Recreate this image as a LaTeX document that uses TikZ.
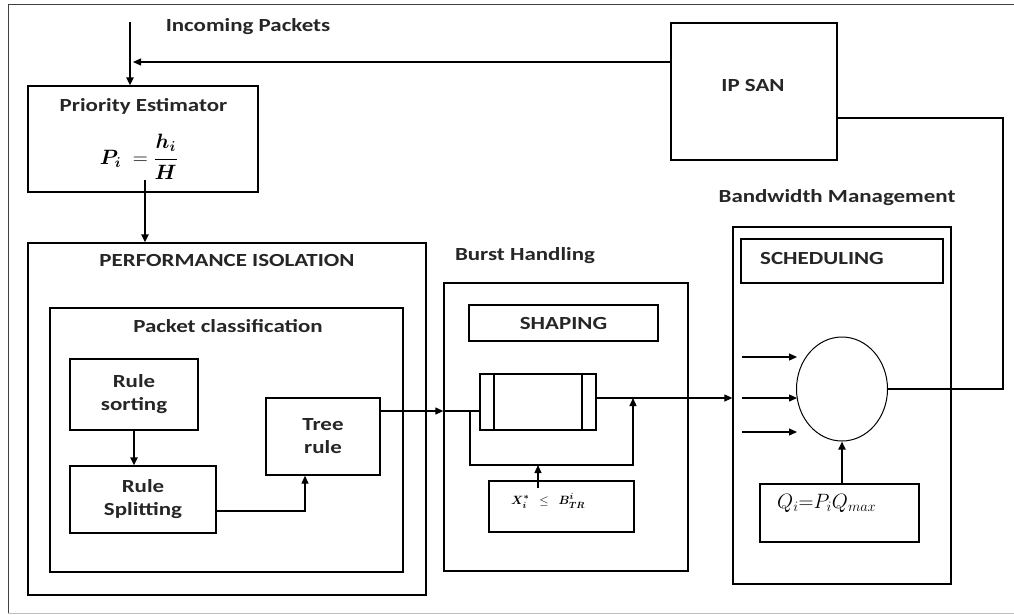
\documentclass[tikz,border=0pt]{standalone}
\usepackage{amsmath,amssymb}
\usepackage{fontspec}
\setmainfont[FakeStretch=1.24]{Carlito}
\usetikzlibrary{arrows.meta,shapes.geometric}

\begin{document}
\begin{tikzpicture}[x=1pt,y=-1pt,>={Triangle[length=8pt,width=7pt]},
  box/.style={draw,line width=1.3pt,inner sep=0pt},
  sz/.style 2 args={minimum width=#1pt,minimum height=#2pt},
  txt/.style={font=\fontsize{18.5}{23}\selectfont\bfseries,align=center,inner sep=0pt,text=black!85},
  fml/.style={font=\fontsize{#1}{#1}\selectfont,inner sep=0pt},
  con/.style={line width=1.2pt},
  thk/.style={line width=2.2pt}]
\useasboundingbox (0,0) rectangle (1014,614);
\draw[line width=1pt,black!75] (8,613)--(8,4)--(1014,4);
\draw[line width=1pt,black!25] (8,613)--(1014,613);
% left column
\node[txt] (inc) at (248,27) {Incoming Packets};
\node[box,sz={230}{106}] (prio) at (143,139) {};
\node[txt] (priot) at (143.5,106) {Priority Estimator};
\node[fml=21] (prif) at (139,157) {$\boldsymbol{P_i}\;=\displaystyle\boldsymbol{\frac{h_i}{H}}$};
\node[box,sz={398}{352}] (perf) at (227,419) {};
\node[txt] (perft) at (227,260) {PERFORMANCE ISOLATION};
\node[box,sz={353}{264}] (pcls) at (226.5,440) {};
\node[txt] (pclst) at (228,326) {Packet classification};
\node[box,sz={128}{71},txt] (rsort) at (134,394.5) {Rule\\sorting};
\node[box,sz={146}{67},txt] (rsplit) at (143,499.5) {Rule\\Splitting};
\node[box,sz={114}{77},txt] (tree) at (323,436.5) {Tree\\rule};
% burst handling
\node[txt] (bht) at (525,256) {Burst Handling};
\node[box,sz={244}{288}] (burst) at (566,427) {};
\node[box,sz={189}{36},txt] (shp) at (563.5,323) {SHAPING};
\node[box,sz={116}{56}] (queue) at (538,402) {};
\draw[line width=2pt] ([xshift=15pt]queue.north west)--([xshift=15pt]queue.south west)
  ([xshift=-15pt]queue.north east)--([xshift=-15pt]queue.south east);
\node[box,sz={145}{51}] (cons) at (561.5,506.5) {};
\node[fml=13,anchor=west] (const) at (511,501) {$\boldsymbol{X^{*}_{i}}\;\;\le\;\;\boldsymbol{B^{i}_{TR}}$};
% bandwidth management
\node[txt] (bwt) at (837,198) {Bandwidth Management};
\node[box,sz={218}{357}] (bw) at (842,405.5) {};
\node[box,sz={202}{44}] (sched) at (842,261) {};
\node[txt,anchor=west] (schedt) at (760,258) {SCHEDULING};
\node[draw,ellipse,line width=1pt,sz={91}{104},inner sep=0pt] (sch) at (842,389) {};
\node[box,sz={159}{58}] (qbox) at (839.5,513) {};
\node[fml=20,anchor=west] (qf) at (777,503) {$Q_i{=}P_iQ_{max}$};
\node[box,sz={166}{137}] (ipsan) at (754,91.5) {};
\node[txt] (ipsant) at (753,85) {IP SAN};
% connectors
\coordinate (inc0) at (130,22);
\draw[thk,->] (inc0) -- (inc0 |- prio.north);
\coordinate (fb) at (133,62);
\draw[con,->] (ipsan.west |- fb) -- (fb);
\coordinate (pe) at (145,180);
\draw[thk,->] (pe) -- (pe |- perf.north);
\draw[thk,->] (rsort.south) -- (rsort.south |- rsplit.north);
\draw[con,->] ([yshift=-11.5pt]rsplit.east) -| ([xshift=-18pt]tree.south);
\coordinate (tq) at ([yshift=25.5pt]tree.east);
\draw[con,->] (tq) -- (tq -| burst.west);
\draw[con] (tq -| burst.west) -- (tq -| queue.west);
\coordinate (byp) at (470,411);
\coordinate (bypd) at (633,465);
\coordinate (join) at (633,398);
\draw[con,->] (byp) |- (bypd) -- (join);
\draw[con,->] (queue.east |- join) -- (join -| bw.west);
\coordinate (ct) at (538,488);
\draw[con,->] (ct) -- (ct |- bypd);
\foreach \yy [count=\k] in {357,398,432}{
  \coordinate (s\k) at (742,\yy);
  \draw[con,->] (s\k) -- ++(55,0);
}
\draw[thk,->] (sch.south |- qbox.north) -- (sch.south);
\coordinate (ret) at (1003,118);
\draw[con] (sch.east) -| (ret) -- (ret -| ipsan.east);
\end{tikzpicture}
\end{document}
